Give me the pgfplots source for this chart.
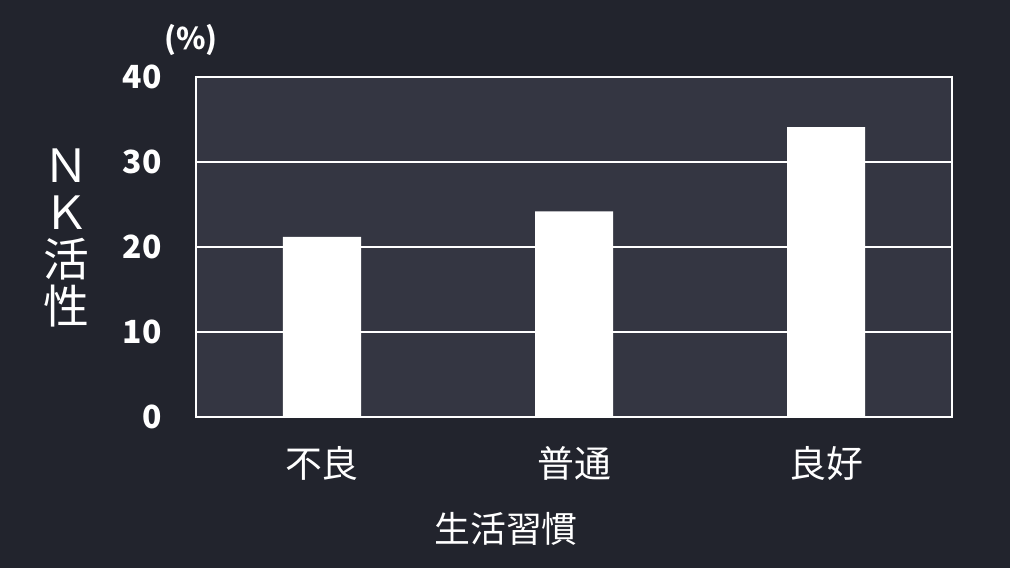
\documentclass[border=0pt]{standalone}
\usepackage{pgfplots}
\pgfplotsset{compat=1.18}
\usepackage{fontspec}
\setmainfont{Noto Sans CJK JP}
\definecolor{bg}{RGB}{34,36,45}
\definecolor{pa}{RGB}{52,54,66}
\begin{document}
\begin{tikzpicture}[x=1bp,y=1bp]
\fill[bg] (-196,-151) rectangle (814,417);
\begin{axis}[
  at={(0,0)}, anchor=south west,
  scale only axis, width=756bp, height=340bp,
  xmin=-0.5, xmax=2.5, ymin=0, ymax=40,
  ytick={0,10,20,30,40},
  xtick=data, xticklabels={不良,普通,良好},
  major tick length=0pt,
  axis background/.style={fill=pa},
  axis line style={white, line width=1.5bp},
  ymajorgrids, grid style={white, line width=1.2bp},
  /pgf/number format/assume math mode=true,
  yticklabel style={text=white, font=\fontsize{32}{32}\selectfont\bfseries, xshift=-31bp},
  xticklabel style={text=white, font=\fontsize{37}{37}\selectfont, yshift=-26bp},
  ybar, bar width=78bp,
]
\addplot[fill=white, draw=none] coordinates {(0,21.2) (1,24.2) (2,34.1)};
\end{axis}
\node[text=white, font=\fontsize{30}{30}\selectfont\bfseries] at (-5,377) {(\%)};
\node[text=white, font=\fontsize{36}{36}\selectfont] at (310,-112) {生活習慣};
\node[text=white, align=center, inner sep=0pt, font=\fontsize{46}{47}\selectfont] at (-130,179) {Ｎ\\Ｋ\\活\\性};
\end{tikzpicture}
\end{document}
